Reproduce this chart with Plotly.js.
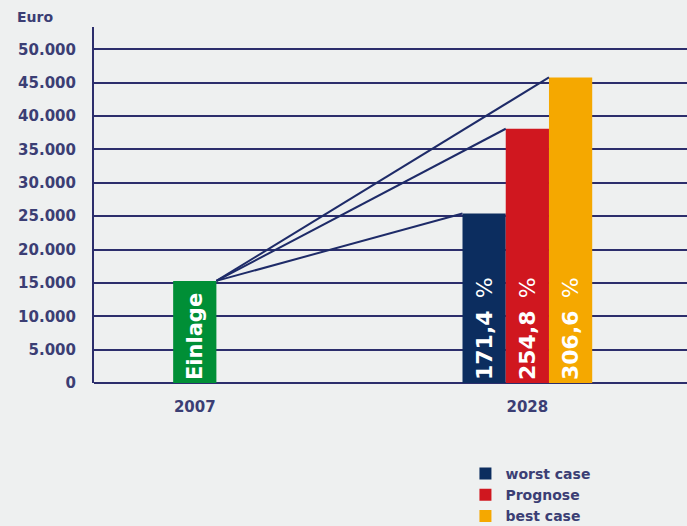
<!DOCTYPE html>
<html>
<head>
<meta charset="utf-8">
<script src="https://cdn.plot.ly/plotly-3.0.1.min.js"></script>
<style>
html,body{margin:0;padding:0;background:#eef0f0;}
#chart{width:687px;height:526px;}
</style>
</head>
<body>
<div id="chart"></div>
<script>
// ---- data ----
const years = ['2007', '2028'];
const depositLabel = 'Einlage';
const depositValue = 15300;
const scenarios = ['worst case', 'Prognose', 'best case'];
const scenarioValues = [25400, 38100, 45800];
const scenarioPercents = ['171,4', '254,8', '306,6'];
const yTicks = [0, 5000, 10000, 15000, 20000, 25000, 30000, 35000, 40000, 45000, 50000];

// ---- styles ----
const navyText = '#3b3e74';
const gridNavy = '#2c2e6c';
const lineNavy = '#1e2b68';
const depositColor = '#008f36';
const scenarioColors = ['#0c2d5f', '#d0171f', '#f5a800'];
const barW = 0.13;
const fontFam = '"DejaVu Sans", Verdana, sans-serif';

const traces = [];

// deposit bar (2007)
traces.push({
  type: 'bar', x: [0], y: [depositValue], width: [barW], offset: [-barW / 2],
  marker: {color: depositColor, line: {width: 0}},
  text: [depositLabel], textposition: 'inside', insidetextanchor: 'start', textangle: -90,
  textfont: {family: fontFam, size: 21, color: '#ffffff', weight: 'bold'},
  showlegend: false, hoverinfo: 'skip', cliponaxis: false
});

// connecting lines from top of deposit bar to each scenario bar
scenarioValues.forEach((v, i) => {
  traces.push({
    type: 'scatter', mode: 'lines',
    x: [0 + barW / 2, 1 - 1.5 * barW + i * barW],
    y: [depositValue, v],
    line: {color: lineNavy, width: 2},
    showlegend: false, hoverinfo: 'skip'
  });
});

// scenario bars (2028)
scenarios.forEach((name, i) => {
  traces.push({
    type: 'bar', name: name, x: [1], y: [scenarioValues[i]],
    width: [barW], offset: [-1.5 * barW + i * barW],
    marker: {color: scenarioColors[i], line: {width: 0}},
    text: [scenarioPercents[i] + ' \u2009<span style="font-weight:normal">%</span>'],
    textposition: 'inside', insidetextanchor: 'start', textangle: -90,
    textfont: {family: fontFam, size: 22, color: '#ffffff', weight: 'bold'},
    hoverinfo: 'skip'
  });
});

const layout = {
  width: 687, height: 526,
  margin: {l: 94, r: 0, t: 27, b: 143, autoexpand: false},
  paper_bgcolor: '#eef0f0', plot_bgcolor: '#eef0f0',
  separators: ',.',
  barmode: 'overlay',
  font: {family: fontFam, color: navyText},
  xaxis: {
    type: 'linear', range: [-0.303, 1.480],
    tickvals: [0, 1], ticktext: years,
    showgrid: false, zeroline: false, showline: false,
    ticks: '', ticklabelstandoff: 13, automargin: false,
    tickfont: {family: fontFam, size: 15, color: navyText, weight: 'bold'},
    fixedrange: true
  },
  yaxis: {
    range: [0, 53350], tickvals: yTicks, tickformat: ',d',
    showgrid: true, gridcolor: gridNavy, gridwidth: 2,
    zeroline: true, zerolinecolor: gridNavy, zerolinewidth: 2,
    showline: true, linecolor: gridNavy, linewidth: 2,
    ticks: '', ticklabelstandoff: 13, automargin: false,
    tickfont: {family: fontFam, size: 15, color: navyText, weight: 'bold'},
    fixedrange: true
  },
  annotations: [{
    text: 'Euro', xref: 'paper', yref: 'paper', x: -0.13, y: 1.0,
    xanchor: 'left', yanchor: 'bottom', xshift: -2, yshift: 0, showarrow: false,
    font: {family: fontFam, size: 14, color: navyText, weight: 'bold'}
  }],
  legend: {
    xref: 'container', yref: 'container',
    x: 0.6775, y: 0.1293, xanchor: 'left', yanchor: 'top',
    bgcolor: 'rgba(0,0,0,0)', traceorder: 'normal',
    itemwidth: 30, tracegroupgap: 0,
    font: {family: fontFam, size: 14, color: navyText, weight: 'bold'}
  },
  showlegend: true
};

Plotly.newPlot('chart', traces, layout, {displayModeBar: false, staticPlot: true});
</script>
</body>
</html>
